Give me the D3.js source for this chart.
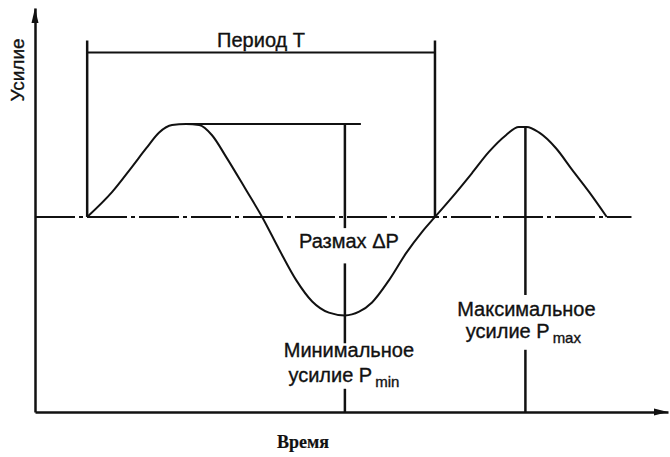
<!DOCTYPE html>
<html>
<head>
<meta charset="utf-8">
<script src="https://cdn.jsdelivr.net/npm/d3@7"></script>
<style>
  body { margin: 0; background: #fff; }
  text { font-family: "Liberation Sans", Arial, sans-serif; fill: #111; stroke: #111; stroke-width: 0.35px; }
</style>
</head>
<body>
<div id="chart"></div>
<script>
// time (period T = 10 units) and force (peak = 1)
const time_values = [0, 0.72, 1.29, 1.70, 2.07, 2.44, 2.84, 3.22, 3.59, 3.99, 4.57, 5.03, 5.52, 6.01, 6.47, 6.95, 7.41,
  7.82, 8.19, 8.68, 9.17, 9.63, 10.0, 10.60, 11.06, 11.55, 12.04, 12.41, 12.64, 12.99, 13.48, 13.94, 14.43, 14.94];
const force_values = [0, 0.27, 0.54, 0.74, 0.91, 0.99, 1.0, 0.99, 0.88, 0.65, 0.29, 0, -0.35, -0.68, -0.91, -1.03, -1.06,
  -1.02, -0.92, -0.68, -0.39, -0.16, 0, 0.26, 0.47, 0.70, 0.88, 0.97, 0.97, 0.91, 0.74, 0.51, 0.27, 0];

// annotation values
const period_start = 0;
const period_end = 10;
const period_level = 1.77;
const period_top = 1.9;
const peak_force = 1.0;
const peak_time = 2.84;
const peak_line_end = 7.87;
const min_time = 7.41;
const max_time = 12.6;
const max_force = 0.97;
const zero_line_end = 15.65;

// labels
const axis_y_label = "Усилие";
const axis_x_label = "Время";
const period_label = "Период Т";
const swing_label = "Размах ΔP";
const min_label = ["Минимальное", "усилие P", "min"];
const max_label = ["Максимальное", "усилие P", "max"];

const width = 670;
const height = 457;

const svg = d3.select("#chart")
  .append("svg")
  .attr("width", width)
  .attr("height", height);

// scales: left axis sits at x=35, bottom axis at y=412
const x = d3.scaleLinear().domain([-1.5, 16.7]).range([35, 668]);
const y = d3.scaleLinear().domain([-2.1, 2.25]).range([412, 8]);

const ink = "#111";

// -------------------------< axes >--------------------------
svg.append("g")
  .attr("transform", `translate(${x(-1.5)},0)`)
  .call(d3.axisLeft(y).tickValues([]).tickSizeOuter(0))
  .select(".domain")
  .attr("stroke", ink)
  .attr("stroke-width", 2.5);

svg.append("g")
  .attr("transform", `translate(0,${y(-2.1)})`)
  .call(d3.axisBottom(x).tickValues([]).tickSizeOuter(0))
  .select(".domain")
  .attr("stroke", ink)
  .attr("stroke-width", 2.5);

// arrow heads
const y_tip = [x(-1.5), y(2.25)];
svg.append("path")
  .attr("d", `M${y_tip[0]},${y_tip[1]} L${y_tip[0] - 3.5},${y_tip[1] + 15} L${y_tip[0] + 3.5},${y_tip[1] + 15} Z`)
  .attr("fill", ink);

const x_tip = [x(16.7), y(-2.1)];
svg.append("path")
  .attr("d", `M${x_tip[0]},${x_tip[1]} L${x_tip[0] - 14},${x_tip[1] - 3.5} L${x_tip[0] - 14},${x_tip[1] + 3.5} Z`)
  .attr("fill", ink);

// zero line (dash-dot)
svg.append("line")
  .attr("x1", x(-1.5)).attr("x2", x(zero_line_end))
  .attr("y1", y(0)).attr("y2", y(0))
  .attr("stroke", ink)
  .attr("stroke-width", 2)
  .attr("stroke-dasharray", "40,4,4,4");

// -------------------------< curve >--------------------------
const points = time_values.map((t, i) => [t, force_values[i]]);

svg.append("path")
  .datum(points)
  .attr("fill", "none")
  .attr("stroke", ink)
  .attr("stroke-width", 2)
  .attr("d", d3.line()
    .x(d => x(d[0]))
    .y(d => y(d[1]))
    .curve(d3.curveMonotoneX));

// -------------------------< annotations >--------------------------
function seg(x1, y1, x2, y2, w) {
  svg.append("line")
    .attr("x1", x1).attr("y1", y1)
    .attr("x2", x2).attr("y2", y2)
    .attr("stroke", ink)
    .attr("stroke-width", w || 2);
}

// period bracket
seg(x(period_start), y(period_top), x(period_start), y(0), 2.5);
seg(x(period_end), y(period_top), x(period_end), y(0), 2.5);
seg(x(period_start), y(period_level), x(period_end), y(period_level), 2);

svg.append("text")
  .attr("x", x((period_start + period_end) / 2))
  .attr("y", y(period_level) - 6)
  .attr("text-anchor", "middle")
  .attr("font-size", 20)
  .text(period_label);

// peak level line
seg(x(peak_time), y(peak_force), x(peak_line_end), y(peak_force), 2);

// minimum marker, broken around its labels
seg(x(min_time), y(peak_force), x(min_time), y(-0.12), 2.5);
seg(x(min_time), y(-0.5), x(min_time), y(-1.36), 2.5);
seg(x(min_time), y(-1.85), x(min_time), y(-2.1), 2.5);

svg.append("text")
  .attr("x", x(min_time) + 4)
  .attr("y", 248)
  .attr("text-anchor", "middle")
  .attr("font-size", 20)
  .text(swing_label);

svg.append("text")
  .attr("x", x(min_time) + 4)
  .attr("y", 357)
  .attr("text-anchor", "middle")
  .attr("font-size", 20)
  .text(min_label[0]);

const min_sub = svg.append("text")
  .attr("x", x(min_time) - 1)
  .attr("y", 382)
  .attr("text-anchor", "middle")
  .attr("font-size", 20);
min_sub.append("tspan").text(min_label[1]);
min_sub.append("tspan").attr("dx", 3).attr("dy", 5).attr("font-size", 15).text(min_label[2]);

// maximum marker, broken around its labels
seg(x(max_time), y(max_force), x(max_time), y(-0.84), 2.5);
seg(x(max_time), y(-1.43), x(max_time), y(-2.1), 2.5);

svg.append("text")
  .attr("x", x(max_time) + 1)
  .attr("y", 316)
  .attr("text-anchor", "middle")
  .attr("font-size", 20)
  .text(max_label[0]);

const max_sub = svg.append("text")
  .attr("x", x(max_time) - 2)
  .attr("y", 338)
  .attr("text-anchor", "middle")
  .attr("font-size", 20);
max_sub.append("tspan").text(max_label[1]);
max_sub.append("tspan").attr("dx", 3).attr("dy", 5).attr("font-size", 15).text(max_label[2]);

// -------------------------< axis titles >--------------------------
svg.append("text")
  .attr("transform", "translate(24,70) rotate(-90)")
  .attr("text-anchor", "middle")
  .attr("font-size", 19)
  .text(axis_y_label);

svg.append("text")
  .attr("x", 303)
  .attr("y", 448)
  .attr("text-anchor", "middle")
  .style("font-family", "'Liberation Serif', 'Times New Roman', serif")
  .style("stroke-width", "0.2px")
  .attr("font-weight", "bold")
  .attr("font-size", 18)
  .text(axis_x_label);
</script>
</body>
</html>
